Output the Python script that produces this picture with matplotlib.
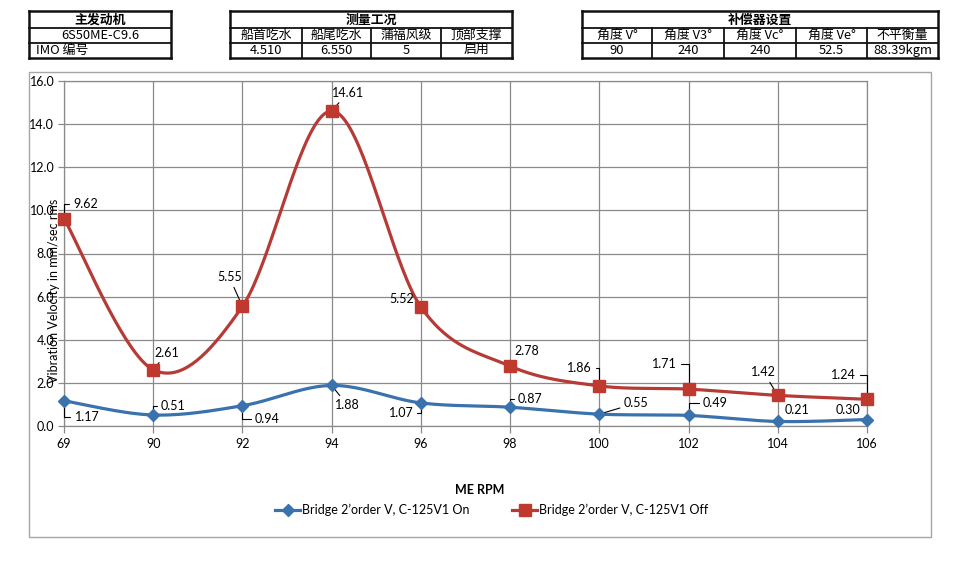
import numpy as np
import matplotlib
matplotlib.use("Agg")
import matplotlib.pyplot as plt
from matplotlib.lines import Line2D
from matplotlib.patches import Rectangle

# ---------------- data ----------------
rpm_labels = ["69", "90", "92", "94", "96", "98", "100", "102", "104", "106"]
on_values = [1.17, 0.51, 0.94, 1.88, 1.07, 0.87, 0.55, 0.49, 0.21, 0.30]
off_values = [9.62, 2.61, 5.55, 14.61, 5.52, 2.78, 1.86, 1.71, 1.42, 1.24]
on_name = "Bridge 2\u2019order V, C-125V1 On"
off_name = "Bridge 2\u2019order V, C-125V1 Off"
y_ticks = [0, 2, 4, 6, 8, 10, 12, 14, 16]

t1_rows = ["主发动机", "6S50ME-C9.6", "IMO 编号"]
t2_title = "测量工况"
t2_head = ["船首吃水", "船尾吃水", "蒲福风级", "顶部支撑"]
t2_vals = ["4.510", "6.550", "5", "启用"]
t3_title = "补偿器设置"
t3_head = ["角度 V°", "角度 V3°", "角度 Vc°", "角度 Ve°", "不平衡量"]
t3_vals = ["90", "240", "240", "52.5", "88.39kgm"]

# ---------------- style / positions ----------------
W, H = 960, 569
plt.rcParams['font.family'] = ['Lato', 'Noto Sans CJK SC', 'DejaVu Sans']
CJK = ['Noto Sans CJK SC', 'DejaVu Sans']
BLUE = '#3A72AD'
RED = '#B63B37'
RED_M = '#C0392F'
GRID = '#8a8a8a'
FS = 9

# label offsets in pixels (dx, dy up) and leader style
off_offsets = [(22, 15, 'h'), (14, 17, 'd'), (-13, 29, 'd'), (16, 18, 'd'), (-19, 8, 'd'),
               (17, 15, 'd'), (-20, 18, 'h'), (-24, 25, 'h'), (-14, 23, 'd'), (-24, 24, 'h')]
on_offsets = [(23, -16, 'h'), (20, 9, 'h'), (25, -13, 'h'), (16, -20, 'd'), (-20, -10, 'h'),
              (20, 8, 'h'), (37, 11, 'd'), (27, 12, 'h'), (19, 11, 'n'), (-19, 10, 'n')]

fig = plt.figure(figsize=(W / 100, H / 100), dpi=100)


def fx(x):
    return x / W


def fy(y):
    return 1 - y / H


# chart frame
fig.add_artist(Rectangle((fx(29), fy(537)), fx(931) - fx(29), fy(72) - fy(537),
                         transform=fig.transFigure, fill=False, edgecolor='#a6a6a6', lw=1.0))

ax = fig.add_axes([fx(64), fy(426), fx(867) - fx(64), fy(81) - fy(426)])
x = np.arange(len(rpm_labels))


def smooth(xs, ys, n=40):
    P = np.column_stack([xs, ys]).astype(float)
    out = []
    for i in range(len(P) - 1):
        p0 = P[i - 1] if i > 0 else P[i]
        p1 = P[i]
        p2 = P[i + 1]
        p3 = P[i + 2] if i + 2 < len(P) else P[i + 1]
        c1 = p1 + (p2 - p0) / 6
        c2 = p2 - (p3 - p1) / 6
        t = np.linspace(0, 1, n)[:, None]
        seg = ((1 - t) ** 3) * p1 + 3 * ((1 - t) ** 2) * t * c1 + 3 * (1 - t) * t ** 2 * c2 + t ** 3 * p2
        out.append(seg if i == 0 else seg[1:])
    S = np.vstack(out)
    return S[:, 0], S[:, 1]


sx, sy = smooth(x, on_values)
ax.plot(sx, sy, color=BLUE, lw=2.3, clip_on=False, zorder=3, solid_capstyle='round')
ax.plot(x, on_values, ls='none', marker='D', ms=6, color=BLUE, mec=BLUE, clip_on=False, zorder=5)
sx, sy = smooth(x, off_values)
ax.plot(sx, sy, color=RED, lw=2.3, clip_on=False, zorder=3, solid_capstyle='round')
ax.plot(x, off_values, ls='none', marker='s', ms=8, color=RED_M, mec=RED_M, clip_on=False, zorder=5)

ax.set_xlim(0, len(rpm_labels) - 1)
ax.set_ylim(0, 16)
ax.set_xticks(x)
ax.set_xticklabels(rpm_labels)
ax.set_yticks(y_ticks)
ax.set_yticklabels([f"{v:.1f}" for v in y_ticks])
ax.grid(True, color=GRID, lw=0.9)
ax.set_axisbelow(True)
for s in ax.spines.values():
    s.set_color(GRID)
    s.set_linewidth(0.9)
ax.tick_params(axis='x', length=5, width=0.9, color=GRID, pad=4, labelsize=FS)
ax.tick_params(axis='y', length=4, width=0.9, color=GRID, pad=3, labelsize=FS)


def label(vals, offs):
    for i, (v, (dx, dy, kind)) in enumerate(zip(vals, offs)):
        ap = None
        if kind == 'h':
            ap = dict(arrowstyle='-', lw=0.8, color='black', shrinkA=1, shrinkB=0,
                      connectionstyle='angle,angleA=0,angleB=90,rad=0')
        elif kind == 'd':
            ap = dict(arrowstyle='-', lw=0.8, color='black', shrinkA=1, shrinkB=0)
        ax.annotate(f"{v:.2f}", (x[i], v), xytext=(dx, dy), textcoords='offset pixels',
                    ha='center', va='center', fontsize=FS, arrowprops=ap,
                    annotation_clip=False, zorder=4)


label(off_values, off_offsets)
label(on_values, on_offsets)

fig.text(fx(54), fy(291), "Vibration Velocity in mm/sec rms", rotation=90,
         ha='center', va='center', fontsize=FS)
fig.text(fx(480), fy(490), "ME RPM", ha='center', va='center', fontsize=FS, fontweight='bold')

handles = [Line2D([], [], color=BLUE, lw=2.3, marker='D', ms=6),
           Line2D([], [], color=RED, lw=2.3, marker='s', ms=8, mfc=RED_M, mec=RED_M)]
fig.legend(handles, [on_name, off_name], loc='center left', bbox_to_anchor=(fx(270), fy(510)),
           borderaxespad=0, ncol=2, frameon=False, fontsize=FS, handlelength=2.0,
           handletextpad=0.16, columnspacing=3.4)

# ---------------- tables ----------------
rows_y = [11, 28, 43, 58]


def hline(x0, x1, y, lw):
    fig.add_artist(Line2D([fx(x0), fx(x1)], [fy(y), fy(y)], transform=fig.transFigure,
                          color='#111111', lw=lw, solid_capstyle='projecting'))


def vline(x0, y0, y1, lw):
    fig.add_artist(Line2D([fx(x0), fx(x0)], [fy(y0), fy(y1)], transform=fig.transFigure,
                          color='#111111', lw=lw, solid_capstyle='projecting'))


def frame(x0, x1):
    hline(x0, x1, rows_y[0], 1.8)
    hline(x0, x1, rows_y[-1], 1.8)
    vline(x0, rows_y[0], rows_y[-1], 1.8)
    vline(x1, rows_y[0], rows_y[-1], 1.8)
    hline(x0, x1, rows_y[1], 1.3)
    hline(x0, x1, rows_y[2], 1.3)


def cell_text(s, xc, row, bold=False, ha='center'):
    yc = (rows_y[row] + rows_y[row + 1]) / 2
    fig.text(fx(xc), fy(yc), s, ha=ha, va='center', fontsize=9.3, family=CJK,
             fontweight='bold' if bold else 'normal')


# table 1
frame(29, 171)
cell_text(t1_rows[0], 100, 0, bold=True)
cell_text(t1_rows[1], 100, 1)
cell_text(t1_rows[2], 36, 2, ha='left')

# table 2
c2 = [230, 302, 371, 441, 512]
frame(c2[0], c2[-1])
for cx in c2[1:-1]:
    vline(cx, rows_y[1], rows_y[3], 1.3)
cell_text(t2_title, (c2[0] + c2[-1]) / 2, 0, bold=True)
for i in range(4):
    xc = (c2[i] + c2[i + 1]) / 2
    cell_text(t2_head[i], xc, 1)
    cell_text(t2_vals[i], xc, 2)

# table 3
c3 = [582, 652, 724, 796, 867, 938]
frame(c3[0], c3[-1])
for cx in c3[1:-1]:
    vline(cx, rows_y[1], rows_y[3], 1.3)
cell_text(t3_title, (c3[0] + c3[-1]) / 2, 0, bold=True)
for i in range(5):
    xc = (c3[i] + c3[i + 1]) / 2
    cell_text(t3_head[i], xc, 1)
    cell_text(t3_vals[i], xc, 2)

fig.savefig("out.png", dpi=100)
